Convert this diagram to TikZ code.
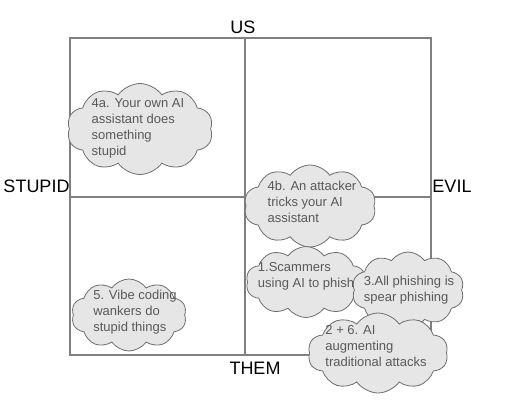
\documentclass[tikz,border=0pt]{standalone}
\usepackage{fontspec}
\setmainfont{Liberation Sans}
\usetikzlibrary{shapes.symbols}
\definecolor{gridgray}{HTML}{808080}
\definecolor{cloudfill}{HTML}{E6E6E6}
\definecolor{cloudline}{HTML}{6E6E6E}
\definecolor{cloudtext}{HTML}{595959}
\tikzset{
  puff/.style={cloud, cloud puffs=10, cloud puff arc=110, draw=cloudline, fill=cloudfill, line width=0.8pt, inner sep=0pt},
  puffnote/.style={text=cloudtext, align=left, inner sep=0pt, font=\fontsize{13}{16}\selectfont},
  axislabel/.style={text=black, inner sep=0pt, font=\fontsize{18}{20}\selectfont}
}
\begin{document}
\begin{tikzpicture}[x=1pt, y=-1pt]
            \useasboundingbox (0,0) rectangle (528,400);
            % quadrant grid
            \draw[gridgray, line width=1.2pt] (70,38) rectangle (431,355);
            \draw[gridgray, line width=1.2pt] (245,38) -- (245,355);
            \draw[gridgray, line width=1.2pt] (70,197) -- (431,197);

            \node[axislabel] (us) at (243,27) {US};
            \node[axislabel] (them) at (255,368) {THEM};
            \node[axislabel] (stupid) at (36.5,186) {STUPID};
            \node[axislabel] (evil) at (452,186) {EVIL};

            % clouds
            \node[puff, minimum width=146pt, minimum height=91pt] (own) at (140,129) {};
            \node[puffnote] (ownt) at (138,128) {4a. Your own AI\\assistant does\\something\\stupid};

            \node[puff, minimum width=132pt, minimum height=82pt] (trick) at (310,206) {};
            \node[puffnote] (trickt) at (312,202) {4b. An attacker\\tricks your AI\\assistant};

            \node[puff, minimum width=115pt, minimum height=72pt] (vibe) at (129,315) {};
            \node[puffnote] (vibet) at (135,312) {5. Vibe coding\\wankers do\\stupid things};

            \node[puff, minimum width=120pt, minimum height=71pt] (scam) at (306,282) {};
            \node[puffnote] (scamt) at (306,276) {1.Scammers\\using AI to phish};

            \node[puff, minimum width=112pt, minimum height=76pt] (spear) at (408,290) {};
            \node[puffnote] (speart) at (409,290) {3.All phishing is\\spear phishing};

            \node[puff, minimum width=140pt, minimum height=80pt] (augment) at (378,353) {};
            \node[puffnote] (augmentt) at (376,346) {2 + 6. AI\\augmenting\\traditional attacks};
        \end{tikzpicture}
\end{document}
